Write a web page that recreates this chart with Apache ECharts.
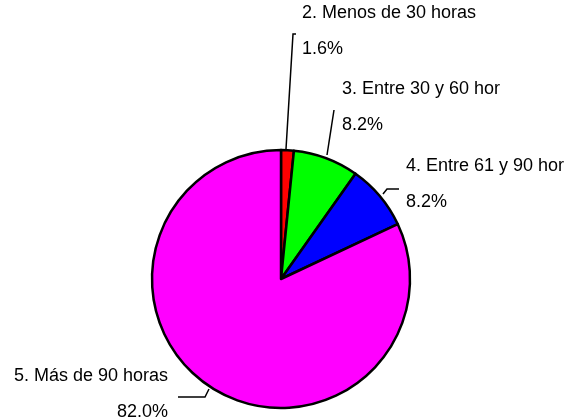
<!DOCTYPE html>
<html>
<head>
<meta charset="utf-8">
<script src="https://cdn.jsdelivr.net/npm/echarts@6/dist/echarts.min.js"></script>
<style>
  html, body {
    margin: 0;
    padding: 0;
    background: #fff;
  }
  .horas {
    width: 575px;
    height: 420px;
  }
</style>
</head>
<body>
<div class="horas" id="horas"></div>
<script>
// categorias y porcentajes
var names = ['2. Menos de 30 horas', '3. Entre 30 y 60 hor', '4. Entre 61 y 90 hor', '5. Más de 90 horas'];
var values = [1.6, 8.2, 8.2, 82.0];
var colors = ['#ff0000', '#00ff00', '#0000ff', '#ff00ff'];

// donde va cada etiqueta y su linea guia
var labelPos = [
    { x: 302, y: 31, align: 'left', line: [[286, 149], [293, 34], [296, 34]] },
    { x: 342, y: 107, align: 'left', line: [[327, 155], [334, 110]] },
    { x: 406, y: 184, align: 'left', line: [[383, 194], [387, 189], [399, 189]] },
    { x: 168, y: 394, align: 'right', line: [[209, 389], [205, 397], [178, 397]] }
];

var pieData = names.map(function (n, i) {
    return {
        name: n,
        value: values[i],
        itemStyle: { color: colors[i] }
    };
});

var option = {
    animation: false,
    backgroundColor: '#fff',
    series: [{
        type: 'pie',
        center: [281, 279],
        radius: 129,
        startAngle: 90,
        clockwise: true,
        data: pieData,
        itemStyle: {
            borderColor: '#000',
            borderWidth: 2.5
        },
        label: {
            show: true,
            position: 'outside',
            overflow: 'none',
            color: '#000',
            fontFamily: 'Liberation Sans, Arial, sans-serif',
            fontSize: 18,
            lineHeight: 36,
            formatter: function (p) {
                return p.name + '\n' + p.value.toFixed(1) + '%';
            }
        },
        labelLine: {
            show: true,
            lineStyle: { color: '#000', width: 1.5 }
        },
        labelLayout: function (params) {
            var lp = labelPos[params.dataIndex];
            return {
                x: lp.x,
                y: lp.y,
                align: lp.align,
                verticalAlign: 'middle',
                labelLinePoints: lp.line
            };
        },
        emphasis: { disabled: true }
    }]
};

var chart = echarts.init(document.getElementById('horas'));
chart.setOption(option, true);
</script>
</body>
</html>
